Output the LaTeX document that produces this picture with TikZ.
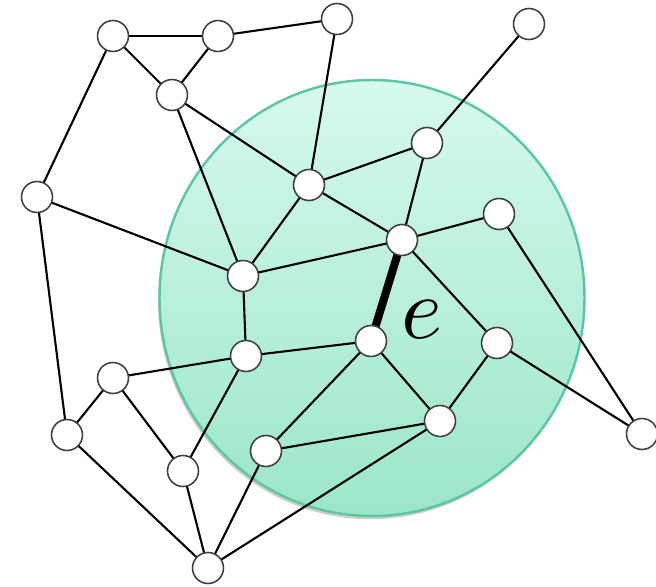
\documentclass[tikz,border=0pt]{standalone}
\usepackage{amsmath}
\usepackage{xcolor}
\usetikzlibrary{shadows}

\definecolor{mintTop}{HTML}{D6FAEC}
\definecolor{mintBot}{HTML}{9CE6C9}
\definecolor{mintEdge}{HTML}{5CC8A0}

\tikzset{
    vertex/.style={circle, draw=black!75, line width=0.9pt, fill=white, minimum size=0.62cm, inner sep=0pt},
    link/.style={line width=1.2pt, black},
    heavylink/.style={line width=4.6pt, black}
}

\begin{document}
\begin{tikzpicture}[x=0.02cm, y=-0.02cm]
                    \useasboundingbox (0,0) rectangle (656,587);
                    % shaded region
                    \shade[top color=mintTop, bottom color=mintBot, draw=mintEdge, line width=1.4pt,
                        drop shadow={shadow xshift=-0.8pt, shadow yshift=-1.8pt, opacity=0.4}]
                        (372,298) ellipse [x radius=212.5, y radius=218];

                    \foreach \n/\x/\y in {v1/113/36, v2/218/36, v3/337/19, v4/529/24, v5/172/95,
                        v6/427/143, v7/37/197, v8/309/185, v9/499/214, v10/402/240,
                        v11/243/276, v12/371/341, v13/497/343, v14/246/356, v15/113/378,
                        v16/67/435, v17/440/421, v18/642/434, v19/266/451, v20/183/471, v21/208/568}
                        \coordinate (\n) at (\x,\y);

                    \foreach \a/\b in {v1/v2, v1/v5, v2/v5, v2/v3, v1/v7, v3/v8, v5/v8, v5/v11,
                        v4/v6, v6/v8, v6/v10, v7/v11, v7/v16, v8/v11, v8/v10, v9/v10, v9/v18,
                        v10/v11, v10/v13, v11/v14, v12/v14, v12/v17, v12/v19, v13/v17, v13/v18,
                        v14/v15, v14/v20, v15/v16, v15/v20, v16/v21, v17/v19, v17/v21,
                        v19/v21, v20/v21}
                        \draw[link] (\a) -- (\b);

                    \draw[heavylink] (v10) -- (v12);

                    \foreach \n in {1,...,21}
                        \node[vertex] (n\n) at (v\n) {};

                    \node[scale=5, inner sep=0pt] (elabel) at (422,320) {$e$};
                        \end{tikzpicture}
\end{document}
